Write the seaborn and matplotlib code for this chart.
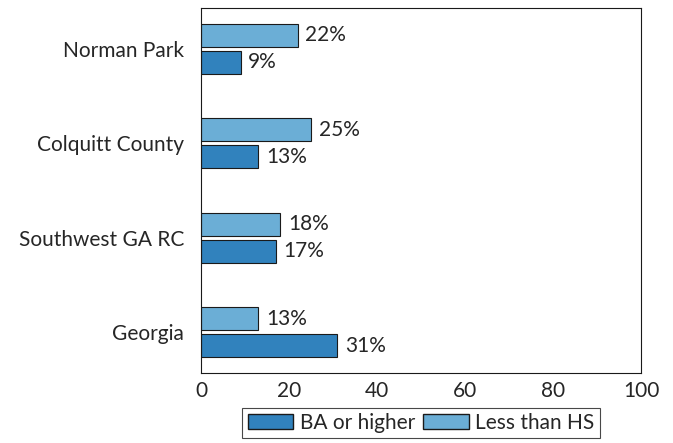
import matplotlib
matplotlib.use("Agg")
import pandas as pd
import matplotlib.pyplot as plt
import seaborn as sns
from matplotlib.patches import Patch

sns.set_style("white")
plt.rcParams["font.family"] = ["Lato", "DejaVu Sans"]

# data
places = ["Norman Park", "Colquitt County", "Southwest GA RC", "Georgia"]
less_than_hs = [22, 25, 18, 13]
ba_or_higher = [9, 13, 17, 31]

series = ["Less than HS", "BA or higher"]
colors = {"Less than HS": "#6baed6", "BA or higher": "#3182bd"}

df = pd.DataFrame({
    "place": places * 2,
    "value": less_than_hs + ba_or_higher,
    "series": ["Less than HS"] * 4 + ["BA or higher"] * 4,
})

fig = plt.figure(figsize=(6.73, 4.43), dpi=100)
ax = fig.add_axes([201 / 673, 1 - 373 / 443, 440 / 673, 365 / 443])

sns.barplot(data=df, y="place", x="value", hue="series", hue_order=series,
            palette=colors, saturation=1, orient="h", width=0.572, gap=0.15,
            edgecolor="#1a1a1a", linewidth=0.8, legend=False, ax=ax)

for cont in ax.containers:
    ax.bar_label(cont, fmt="%g%%", padding=5.5, fontsize=15)

ax.set_xlim(0, 100)
ax.set_ylim(3.43, -0.43)
ax.set_xticks([0, 20, 40, 60, 80, 100])
ax.set_xlabel("")
ax.set_ylabel("")
ax.tick_params(axis="both", labelsize=15, length=0)
ax.tick_params(axis="y", pad=12)
ax.tick_params(axis="x", pad=6)
for s in ax.spines.values():
    s.set_visible(True)
    s.set_color("#1a1a1a")
    s.set_linewidth(0.8)

handles = [Patch(facecolor=colors["BA or higher"], edgecolor="#1a1a1a", label="BA or higher"),
           Patch(facecolor=colors["Less than HS"], edgecolor="#1a1a1a", label="Less than HS")]
leg = ax.legend(handles=handles, loc="upper center", bbox_to_anchor=(0.5, -0.095),
                ncol=2, fontsize=15, frameon=True, fancybox=False,
                handlelength=2.2, handleheight=0.7, handletextpad=0.3,
                columnspacing=0.4, borderpad=0.25, borderaxespad=0,
                edgecolor="#1a1a1a")
leg.get_frame().set_linewidth(0.8)

fig.savefig("out.png", dpi=100)
